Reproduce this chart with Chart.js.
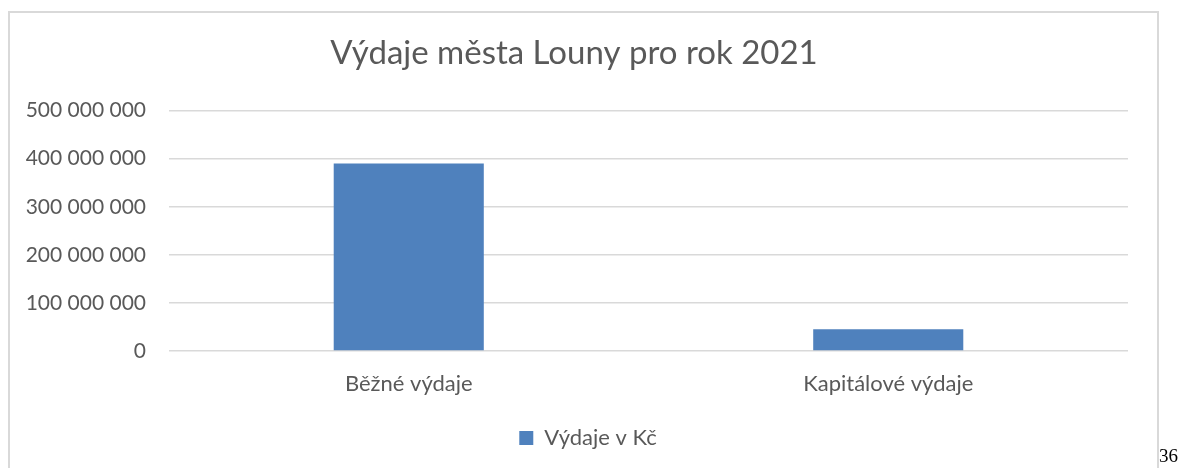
<!DOCTYPE html>
<html>
<head>
<meta charset="utf-8">
<script src="https://cdn.jsdelivr.net/npm/chart.js@4"></script>
<style>
  html, body { margin: 0; padding: 0; background: #fff; width: 1184px; height: 468px; overflow: hidden; }
  #wrap { position: absolute; left: 0; top: 0; width: 1184px; height: 468px; }
  #frame { position: absolute; left: 8px; top: 11px; width: 1151px; height: 480px; border: 2px solid #d9d9d9; box-sizing: border-box; pointer-events: none; }
  #page { position: absolute; left: 1159px; top: 445px; font-family: "Liberation Serif", serif; font-size: 19px; color: #000; }
</style>
</head>
<body>
<div id="wrap"><canvas id="c" width="1184" height="468"></canvas></div>
<div id="frame"></div>
<div id="page">36</div>
<script>
const chartTitle = "Výdaje města Louny pro rok 2021";
const categories = ["Běžné výdaje", "Kapitálové výdaje"];
const seriesName = "Výdaje v Kč";
const values = [390000000, 45000000];
const yMin = 0;
const yMax = 500000000;
const yStep = 100000000;

const fmt = v => String(v).replace(/\B(?=(\d{3})+(?!\d))/g, ' ');
const FONT = "Lato, 'Open Sans', sans-serif";
const TXT = '#595959';

const legendShift = {
  id: 'legendShift',
  afterLayout(chart) {
    if (chart.legend) { chart.legend.left += 14; chart.legend.right += 14; }
  }
};

new Chart(document.getElementById('c'), {
  type: 'bar',
  data: {
    labels: categories,
    datasets: [{
      label: seriesName,
      data: values,
      backgroundColor: '#4f81bd',
      borderWidth: 0,
      categoryPercentage: 1,
      barPercentage: 0.313
    }]
  },
  plugins: [legendShift],
  options: {
    responsive: false,
    animation: false,
    devicePixelRatio: 1,
    layout: { padding: { left: 20, right: 56, top: 0, bottom: 9 } },
    plugins: {
      title: {
        display: true,
        text: chartTitle,
        color: TXT,
        font: { family: FONT, size: 33, weight: 'normal' },
        padding: { top: 34, bottom: 37 }
      },
      legend: {
        position: 'bottom',
        labels: {
          color: TXT,
          font: { family: FONT, size: 22 },
          boxWidth: 14,
          boxHeight: 14,
          padding: 16
        }
      },
      tooltip: { enabled: false }
    },
    scales: {
      x: {
        grid: { display: false, drawTicks: false },
        border: { display: false },
        ticks: { color: TXT, font: { family: FONT, size: 22 }, padding: 20 },
        afterFit: s => { s.height = 60; }
      },
      y: {
        min: yMin,
        max: yMax,
        ticks: {
          stepSize: yStep,
          color: TXT,
          font: { family: FONT, size: 21 },
          padding: 23,
          callback: v => fmt(v)
        },
        grid: { color: '#d9d9d9', lineWidth: 1.5, drawTicks: false },
        border: { display: false },
        afterFit: s => { s.width = 149; }
      }
    }
  }
});
</script>
</body>
</html>
